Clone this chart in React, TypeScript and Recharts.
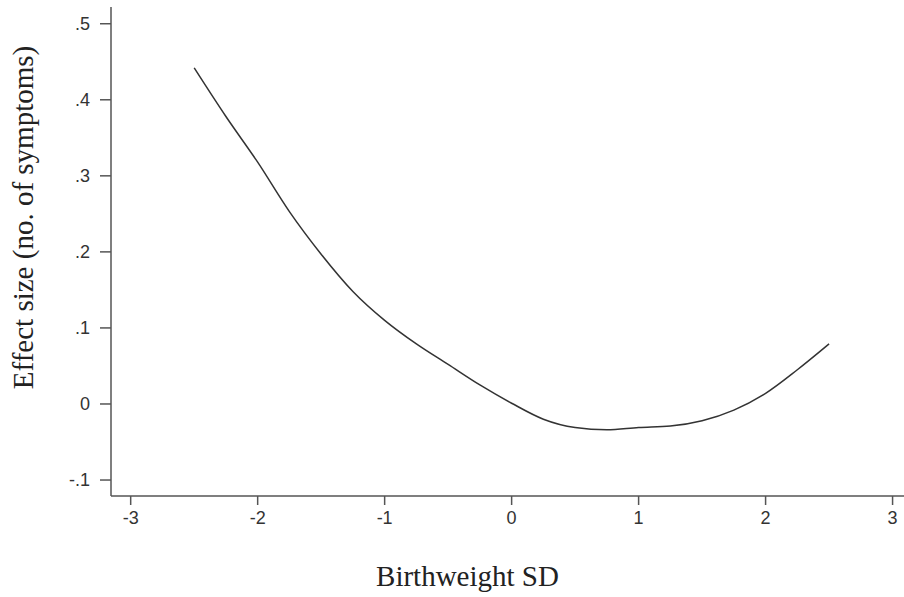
import React from 'react'
import { LineChart, Line, XAxis, YAxis } from 'recharts'

// values
const birthweightSd = [-2.5, -2.25, -2, -1.75, -1.5, -1.25, -1, -0.75, -0.5, -0.25, 0, 0.25, 0.5, 0.75, 1, 1.25, 1.5, 1.75, 2, 2.25, 2.5]
const effectSize = [0.442, 0.378, 0.318, 0.253, 0.197, 0.148, 0.11, 0.079, 0.052, 0.025, 0.001, -0.02, -0.031, -0.034, -0.031, -0.029, -0.022, -0.008, 0.014, 0.045, 0.079]

const xTicks = [-3, -2, -1, 0, 1, 2, 3]
const yTicks = [-0.1, 0, 0.1, 0.2, 0.3, 0.4, 0.5]

const data = birthweightSd.map((x, i) => ({ x, y: effectSize[i] }))

const fmtY = (v: number) => (v === 0 ? '0' : v.toFixed(1).replace('0.', '.'))

const tickStyle = { fontFamily: 'Liberation Sans, Arial, sans-serif', fontSize: 18, fill: '#333' }
const labelStyle = { fontFamily: 'Liberation Serif, Times New Roman, serif', fontSize: 29, fill: '#222', textAnchor: 'middle' as const }

export default function App() {
  return (
    <div style={{ position: 'absolute', left: 0, top: 0, width: 904, height: 597, background: '#fff' }}>
      <LineChart width={904} height={597} data={data} margin={{ top: 7, right: 0, bottom: 0, left: 0 }}>
        <XAxis
          dataKey="x"
          type="number"
          domain={[-3.155, 3.09]}
          ticks={xTicks}
          height={101}
          tickSize={9}
          tickMargin={6}
          tick={tickStyle}
          stroke="#555"
          strokeWidth={1.5}
          allowDataOverflow
          label={{ value: 'Birthweight SD', position: 'insideBottom', offset: 11, dx: -40, style: labelStyle }}
        />
        <YAxis
          type="number"
          domain={[-0.121, 0.522]}
          ticks={yTicks}
          width={111}
          tickSize={11}
          tickMargin={10}
          tick={tickStyle}
          tickFormatter={fmtY}
          stroke="#555"
          strokeWidth={1.5}
          allowDataOverflow
          label={{ value: 'Effect size (no. of symptoms)', angle: -90, position: 'insideLeft', offset: 23, dy: -34, style: labelStyle }}
        />
        <Line type="monotone" dataKey="y" stroke="#333" strokeWidth={1.5} dot={false} isAnimationActive={false} />
      </LineChart>
    </div>
  )
}
